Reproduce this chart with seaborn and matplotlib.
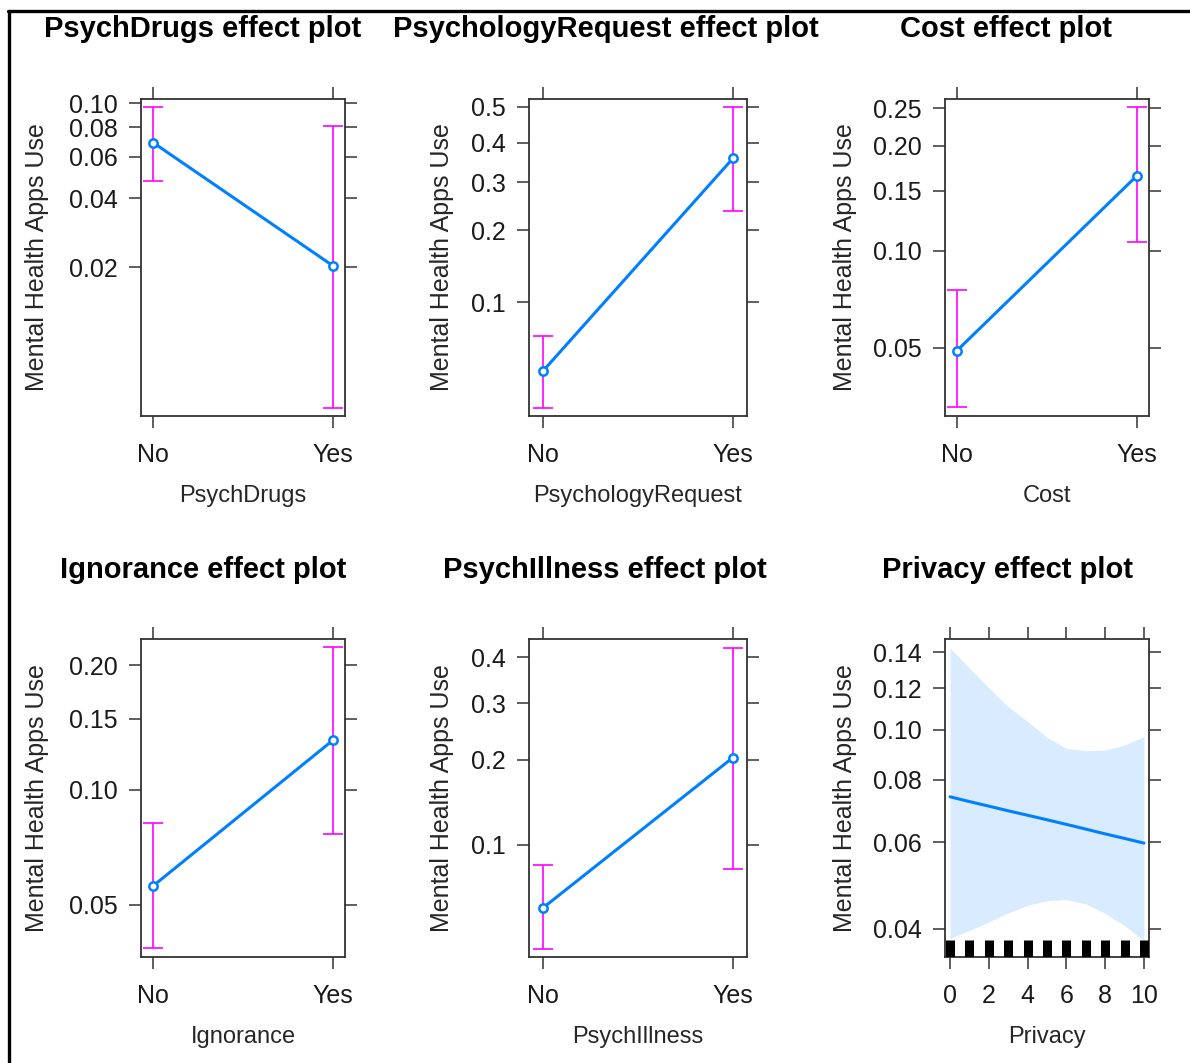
import numpy as np
import matplotlib
matplotlib.use("Agg")
import matplotlib.pyplot as plt
import seaborn as sns
from matplotlib.ticker import FixedLocator, FixedFormatter, NullLocator
from matplotlib.lines import Line2D

# ---- data (probabilities) ----
categories = ["No", "Yes"]

psychdrugs_fit = [0.069, 0.0203]
psychdrugs_lower = [0.0474, 0.00476]
psychdrugs_upper = [0.0966, 0.0808]

psychrequest_fit = [0.0488, 0.359]
psychrequest_lower = [0.0329, 0.237]
psychrequest_upper = [0.0709, 0.500]

cost_fit = [0.0489, 0.1655]
cost_lower = [0.0321, 0.1064]
cost_upper = [0.0757, 0.252]

ignorance_fit = [0.0561, 0.133]
ignorance_lower = [0.0381, 0.0770]
ignorance_upper = [0.0822, 0.219]

psychillness_fit = [0.0574, 0.2036]
psychillness_lower = [0.0396, 0.0814]
psychillness_upper = [0.0839, 0.422]

privacy_x = [0, 1, 2, 3, 4, 5, 6, 7, 8, 9, 10]
privacy_fit = [0.0740, 0.0724, 0.0709, 0.0694, 0.0680, 0.0666, 0.0652, 0.0638, 0.0624, 0.0611, 0.0598]
privacy_upper = [0.1427, 0.131, 0.1203, 0.1108, 0.1038, 0.0968, 0.0921, 0.0912, 0.0914, 0.0935, 0.0971]
privacy_lower = [0.0382, 0.0397, 0.0413, 0.0431, 0.0447, 0.0457, 0.0459, 0.0450, 0.0430, 0.0406, 0.0378]
privacy_rug = [0, 1, 2, 3, 4, 5, 6, 7, 8, 9, 10]

ylab = "Mental Health Apps Use"
blue = "#0080ff"
magenta = "#ff00ff"
frame = "#333333"

sns.set_style("ticks")
plt.rcParams["font.family"] = ["Liberation Sans", "DejaVu Sans"]
plt.rcParams["text.color"] = "#1a1a1a"

W, H = 1190, 1063
fig = plt.figure(figsize=(W / 100, H / 100), dpi=100)


def px_rect(x0, y0, x1, y1):
    return [x0 / W, 1 - y1 / H, (x1 - x0) / W, (y1 - y0) / H]


def style_axes(ax, yticks, ylabels, ylim, xlim, ylab_x):
    ax.set_yscale("logit")
    ax.set_ylim(ylim)
    ax.set_xlim(xlim)
    ax.yaxis.set_major_locator(FixedLocator(yticks))
    ax.yaxis.set_major_formatter(FixedFormatter(ylabels))
    ax.yaxis.set_minor_locator(NullLocator())
    ax.xaxis.set_minor_locator(NullLocator())
    ax.tick_params(axis="both", direction="out", length=8.5, width=1.1, color=frame,
                   labelsize=18, labelcolor="#1a1a1a", top=True, right=True,
                   labeltop=False, labelright=False, left=True, bottom=True)
    ax.tick_params(axis="y", pad=8)
    ax.tick_params(axis="x", pad=11)
    for sp in ax.spines.values():
        sp.set_visible(True)
        sp.set_color(frame)
        sp.set_linewidth(1.3)
    ax.set_ylabel(ylab, fontsize=18, rotation=90, ha="center", va="center")
    ax.yaxis.set_label_coords(ylab_x, 0.5)
    ax.grid(False)


def factor_panel(rect, name, fit, lower, upper, yticks, ylabels, ylim, ylab_x, title_xy):
    ax = fig.add_axes(rect)
    x = np.arange(len(categories))
    sns.lineplot(x=x, y=fit, ax=ax, color=blue, lw=2.2, marker="o", markersize=6,
                 markerfacecolor="white", markeredgecolor=blue, markeredgewidth=1.8,
                 zorder=3)
    err = [np.array(fit) - np.array(lower), np.array(upper) - np.array(fit)]
    ax.errorbar(x, fit, yerr=err, fmt="none", ecolor=magenta, elinewidth=1.2,
                capsize=7.5, capthick=1.2, zorder=2)
    pad = 12 / 180 if rect[2] * W < 210 else 14 / 190
    style_axes(ax, yticks, ylabels, ylim, (-pad, 1 + pad), ylab_x)
    ax.set_xticks(x)
    ax.set_xticklabels(categories)
    ax.set_xlabel(name, fontsize=17, va="center")
    ax.xaxis.set_label_coords(0.5, -0.252)
    fig.text(title_xy[0] / W, 1 - title_xy[1] / H, f"{name} effect plot",
             fontsize=21, fontweight="bold", ha="center", va="center", color="black")
    return ax


row1 = (99, 416)
row2 = (639, 957)
col1 = (141, 345)
col2 = (529, 747)
col3 = (945, 1149)

factor_panel(px_rect(col1[0], row1[0], col1[1], row1[1]), "PsychDrugs",
             psychdrugs_fit, psychdrugs_lower, psychdrugs_upper,
             [0.10, 0.08, 0.06, 0.04, 0.02], ["0.10", "0.08", "0.06", "0.04", "0.02"],
             (0.00437, 0.1041), -0.51, (203, 29))
factor_panel(px_rect(col2[0], row1[0], col2[1], row1[1]), "PsychologyRequest",
             psychrequest_fit, psychrequest_lower, psychrequest_upper,
             [0.5, 0.4, 0.3, 0.2, 0.1], ["0.5", "0.4", "0.3", "0.2", "0.1"],
             (0.0300, 0.5216), -0.40, (606, 29))
factor_panel(px_rect(col3[0], row1[0], col3[1], row1[1]), "Cost",
             cost_fit, cost_lower, cost_upper,
             [0.25, 0.20, 0.15, 0.10, 0.05], ["0.25", "0.20", "0.15", "0.10", "0.05"],
             (0.0301, 0.2637), -0.49, (1006, 29))
factor_panel(px_rect(col1[0], row2[0], col1[1], row2[1]), "Ignorance",
             ignorance_fit, ignorance_lower, ignorance_upper,
             [0.20, 0.15, 0.10, 0.05], ["0.20", "0.15", "0.10", "0.05"],
             (0.0361, 0.2285), -0.51, (203, 570))
factor_panel(px_rect(col2[0], row2[0], col2[1], row2[1]), "PsychIllness",
             psychillness_fit, psychillness_lower, psychillness_upper,
             [0.4, 0.3, 0.2, 0.1], ["0.4", "0.3", "0.2", "0.1"],
             (0.0367, 0.442), -0.40, (605, 570))

# Privacy: numeric predictor with confidence band and rug
ax = fig.add_axes(px_rect(col3[0], row2[0], col3[1], row2[1]))
ax.fill_between(privacy_x, privacy_lower, privacy_upper, color=blue, alpha=0.15, lw=0, zorder=1)
sns.lineplot(x=privacy_x, y=privacy_fit, ax=ax, color=blue, lw=2.2, zorder=3)
sns.rugplot(x=privacy_rug, ax=ax, height=0.053, linewidth=6.5, color="black", zorder=4)
style_axes(ax, [0.14, 0.12, 0.10, 0.08, 0.06, 0.04],
           ["0.14", "0.12", "0.10", "0.08", "0.06", "0.04"],
           (0.0350, 0.1482), (-0.26, 10.26), -0.49)
ax.set_xticks([0, 2, 4, 6, 8, 10])
ax.set_xticklabels(["0", "2", "4", "6", "8", "10"])
ax.set_xlabel("Privacy", fontsize=17, va="center")
ax.xaxis.set_label_coords(0.5, -0.252)
fig.text(1008 / W, 1 - 570 / H, "Privacy effect plot", fontsize=21,
         fontweight="bold", ha="center", va="center", color="black")

# outer frame (left and top edge of the screenshot box)
fig.add_artist(Line2D([8.5 / W, 8.5 / W], [0, 1 - 10.5 / H], color="black", lw=2.4,
                      transform=fig.transFigure))
fig.add_artist(Line2D([7.5 / W, 1], [1 - 10.5 / H, 1 - 10.5 / H], color="black", lw=2.4,
                      transform=fig.transFigure))

fig.savefig("out.png", dpi=100, facecolor="white")
